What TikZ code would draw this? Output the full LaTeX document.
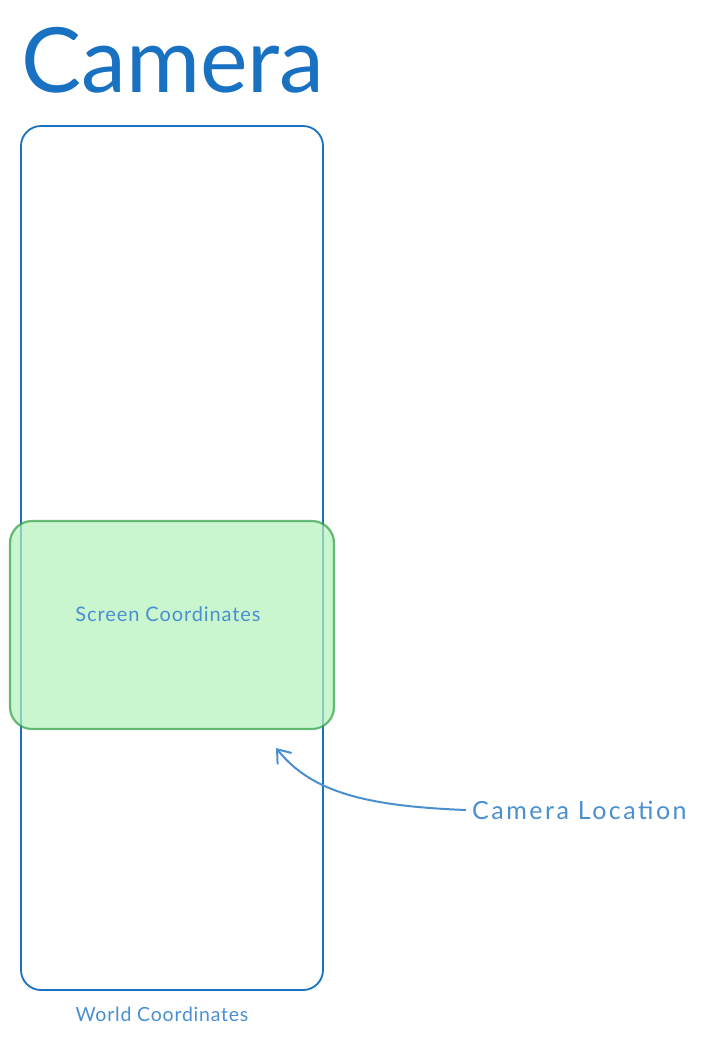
\documentclass[tikz,border=0pt]{standalone}
\usepackage{fontspec}
\setmainfont{Lato}
\usetikzlibrary{arrows.meta}
\definecolor{exblue}{HTML}{1971C2}
\definecolor{txtblue}{HTML}{4A90D0}
\definecolor{exgreen}{HTML}{2F9E44}
\definecolor{exgfill}{HTML}{B2F2BB}
\tikzset{
  world/.style={draw=exblue, line width=1.8pt, rounded corners=20pt, minimum width=302pt, minimum height=864pt, inner sep=0pt},
  screen/.style={draw=exgreen, draw opacity=0.7, fill=exgfill, fill opacity=0.7, line width=2.2pt, rounded corners=22pt, minimum width=324pt, minimum height=208pt, inner sep=0pt},
  lbl/.style={text=txtblue, inner sep=0pt, text opacity=1},
  arr/.style={draw=txtblue, line width=2pt, -{Straight Barb[length=12pt,width=18pt,line width=2pt]}}
}
\begin{document}
\begin{tikzpicture}[x=1pt,y=-1pt]
\useasboundingbox (0,0) rectangle (702,1037);
\node[text=exblue, inner sep=0pt, anchor=base west, font=\fontsize{90}{94}\selectfont] (title) at (21,92) {Camera};
\node[world] (worldbox) at (172,558) {};
\node[screen] (screenbox) at (172,625) {};
\node[lbl, font=\fontsize{20}{24}\selectfont\addfontfeatures{LetterSpace=4.5}] (screenlbl) at (168,614) {Screen Coordinates};
\node[lbl, font=\fontsize{19.5}{24}\selectfont\addfontfeatures{LetterSpace=4}] (worldlbl) at (162,1014) {World Coordinates};
\node[lbl, font=\fontsize{25}{30}\selectfont\addfontfeatures{LetterSpace=10}, anchor=west] (camlbl) at (472,810) {Camera Location};
\coordinate (tip) at (276,748);
\draw[arr] (camlbl.west) ++(-6,0) .. controls (360,806) and (310,790) .. (tip);
\end{tikzpicture}
\end{document}
